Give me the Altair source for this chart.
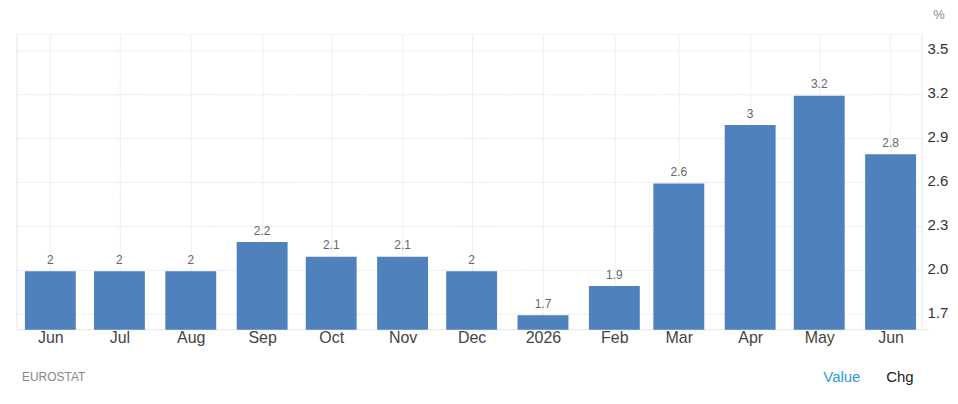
import altair as alt
import pandas as pd

# first of each month, as plotted
dates = [
    "2025-06-01", "2025-07-01", "2025-08-01", "2025-09-01", "2025-10-01",
    "2025-11-01", "2025-12-01", "2026-01-01", "2026-02-01", "2026-03-01",
    "2026-04-01", "2026-05-01", "2026-06-01",
]
values = [2, 2, 2, 2.2, 2.1, 2.1, 2, 1.7, 1.9, 2.6, 3, 3.2, 2.8]
y_ticks = [1.7, 2.0, 2.3, 2.6, 2.9, 3.2, 3.5]
x_domain = ["2025-05-17T12:00:00Z", "2026-06-14T16:00:00Z"]
y_domain = [1.591, 3.609]

PLOT_W = 907
PLOT_H = 296
FONT = "Liberation Sans"
LINE = "#e6e6e6"
GRID = "#e0e0e0"

frame = pd.DataFrame({"date": dates, "value": values})

x_enc = alt.X(
    "date:T",
    scale=alt.Scale(type="utc", domain=x_domain, padding=0),
    axis=alt.Axis(
        values=dates,
        labelExpr="utcFormat(datum.value, '%m') == '01' ? utcFormat(datum.value, '%Y') : utcFormat(datum.value, '%b')",
        title=None,
        grid=True,
        gridColor=GRID,
        gridDash=[1, 1],
        domain=False,
        ticks=False,
        labelAngle=0,
        labelFont=FONT,
        labelFontSize=16,
        labelColor="#444444",
        labelPadding=0,
        labelAlign="center",
        labelBaseline="top",
        labelOverlap=False,
        labelBound=False,
        labelFlush=False,
    ),
)
y_enc = alt.Y(
    "value:Q",
    scale=alt.Scale(domain=y_domain, zero=False, nice=False),
    axis=alt.Axis(
        orient="right",
        values=y_ticks,
        format=".1f",
        title=None,
        grid=True,
        gridColor=GRID,
        gridDash=[1, 1],
        domain=False,
        ticks=False,
        labelFont=FONT,
        labelFontSize=15,
        labelColor="#333333",
        labelPadding=5,
        labelOffset=-1.5,
    ),
)

# bars sit a touch under the gridlines in the original
bars = (
    alt.Chart(frame)
    .mark_bar(width=51, color="#4f81bd", clip=True, yOffset=1.5)
    .encode(x=x_enc, y=y_enc)
)
labels = (
    alt.Chart(frame)
    .mark_text(font=FONT, fontSize=12, color="#666666", baseline="bottom", dy=-3)
    .encode(x="date:T", y="value:Q", text=alt.Text("value:Q", format="~g"))
)


def frame_rule(x, x2, y, y2, **style):
    return (
        alt.Chart(frame.head(1))
        .mark_rule(color=LINE, **style)
        .encode(x=alt.value(x), x2=alt.value(x2), y=alt.value(y), y2=alt.value(y2))
    )


def note(text, x, y, color, size, align="left"):
    return (
        alt.Chart(pd.DataFrame({"label": [text]}))
        .mark_text(font=FONT, fontSize=size, color=color, align=align, baseline="middle")
        .encode(x=alt.value(x), y=alt.value(y), text="label:N")
    )


chart = alt.layer(
    frame_rule(0, 0, 0, PLOT_H),
    frame_rule(PLOT_W, PLOT_W, 0, PLOT_H),
    frame_rule(0, PLOT_W + 7, PLOT_H, PLOT_H),
    frame_rule(0, PLOT_W, 0, 0, strokeDash=[1, 1]),
    bars,
    labels,
    note("%", 924, -19, "#888888", 13, "center"),
    note("EUROSTAT", 5, PLOT_H + 47, "#888888", 12),
    note("Value", 808, PLOT_H + 47, "#2e9be0", 15),
    note("Chg", 871, PLOT_H + 47, "#222222", 15),
).properties(
    width=PLOT_W,
    height=PLOT_H,
    autosize=alt.AutoSizeParams(type="none"),
    padding={"left": 9, "top": 26, "right": 28, "bottom": 62},
).configure_view(stroke=None)

chart.save("out.html", embed_options={"renderer": "svg", "actions": False})
